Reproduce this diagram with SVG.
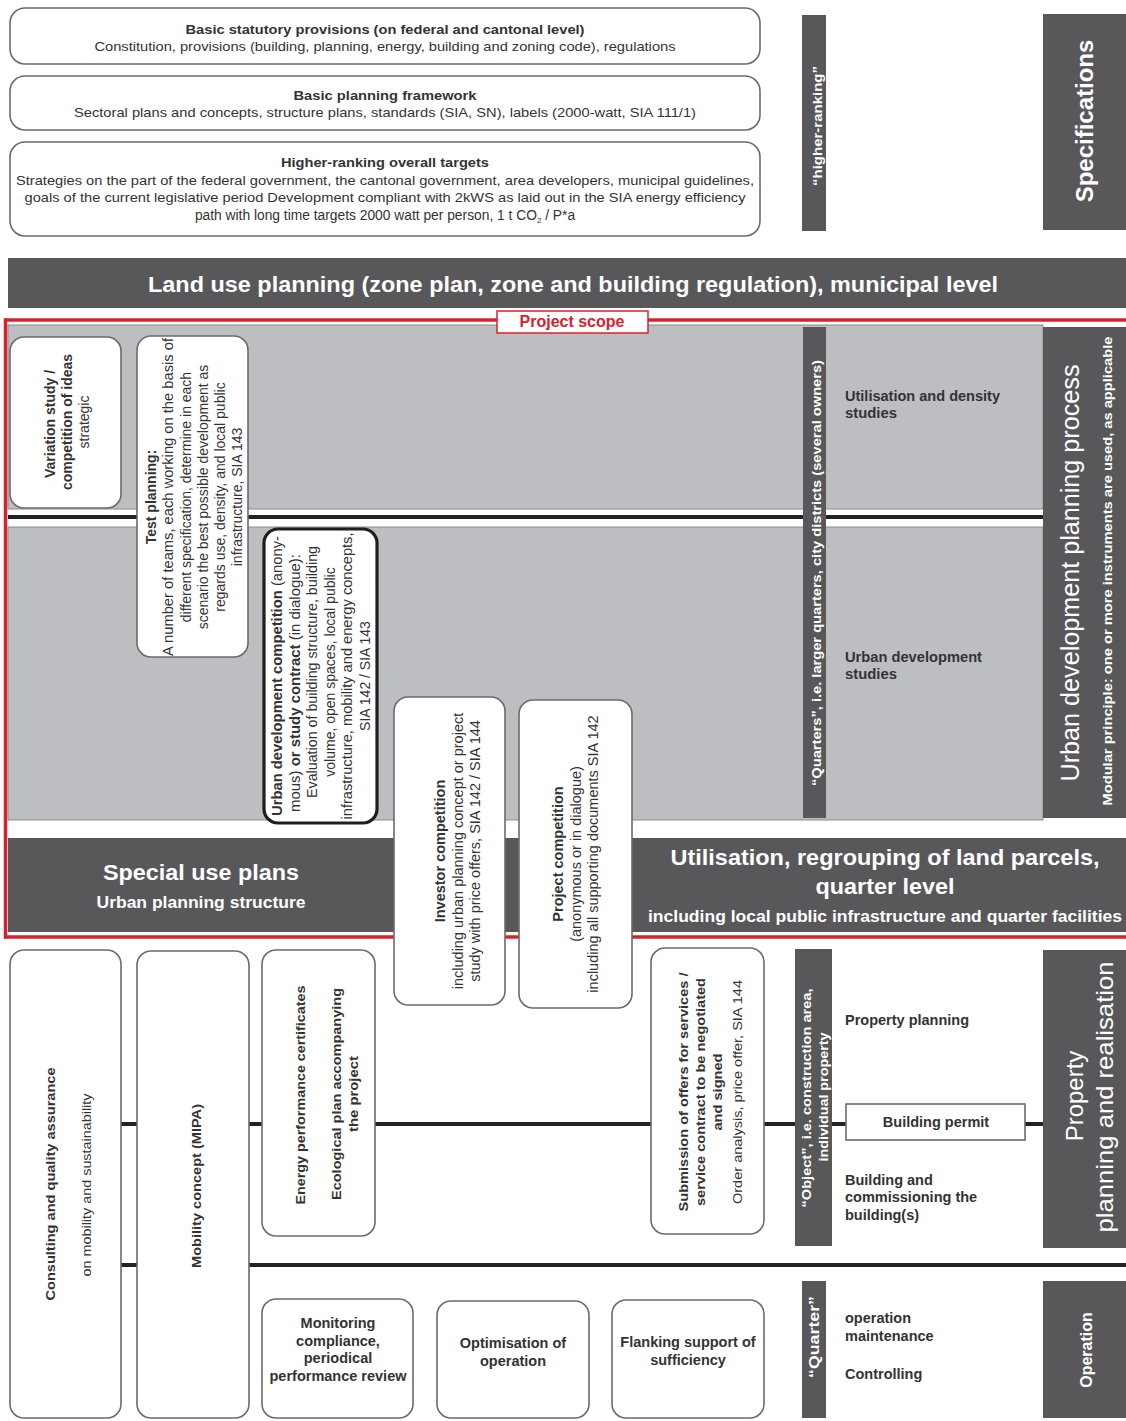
<svg xmlns="http://www.w3.org/2000/svg" width="1126" height="1421" viewBox="0 0 1126 1421">
  <defs>
    <style>
      text { font-family: "Liberation Sans", Arial, sans-serif; fill: #333; }
      .b { font-weight: bold; }
      .w { fill: #fff; }
      .m { text-anchor: middle; }
      .box { fill: #fff; stroke: #6b6b6b; stroke-width: 1.6; }
      .dark { fill: #58585a; }
      .gray { fill: #bdbec1; stroke: #8c8c8c; stroke-width: 1; }
      .red { stroke: #d7222d; stroke-width: 3.5; fill: none; }
      .link { stroke: #222; stroke-width: 4; fill: none; }
      .s13 { font-size: 13px; }
      .s14 { font-size: 14px; }
      .s145 { font-size: 14.5px; }
      .s12 { font-size: 12px; }
    </style>
  </defs>

  <rect width="1126" height="1421" fill="#fff"/>

  <!-- higher-ranking specifications -->
  <g id="statutory">
    <rect class="box" x="10" y="8" width="750" height="56" rx="15"/>
    <text class="b m s13" x="385" y="34" textLength="399" lengthAdjust="spacingAndGlyphs">Basic statutory provisions (on federal and cantonal level)</text>
    <text class="m s13" x="385" y="51" textLength="581" lengthAdjust="spacingAndGlyphs">Constitution, provisions (building, planning, energy, building and zoning code), regulations</text>
  </g>
  <g id="framework">
    <rect class="box" x="10" y="76" width="750" height="54" rx="15"/>
    <text class="b m s13" x="385" y="100" textLength="183" lengthAdjust="spacingAndGlyphs">Basic planning framework</text>
    <text class="m s13" x="385" y="117" textLength="622" lengthAdjust="spacingAndGlyphs">Sectoral plans and concepts, structure plans, standards (SIA, SN), labels (2000-watt, SIA 111/1)</text>
  </g>
  <g id="targets">
    <rect class="box" x="10" y="142" width="750" height="94" rx="15"/>
    <text class="b m s13" x="385" y="167" textLength="208" lengthAdjust="spacingAndGlyphs">Higher-ranking overall targets</text>
    <text class="m s13" x="385" y="185" textLength="738" lengthAdjust="spacingAndGlyphs">Strategies on the part of the federal government, the cantonal government, area developers, municipal guidelines,</text>
    <text class="m s13" x="385" y="202" textLength="721" lengthAdjust="spacingAndGlyphs">goals of the current legislative period Development compliant with 2kWS as laid out in the SIA energy efficiency</text>
    <text class="m" font-size="13.8" x="385" y="220">path with long time targets 2000 watt per person, 1 t CO<tspan font-size="8" dy="3">2</tspan><tspan dy="-3"> / P*a</tspan></text>
  </g>
  <g id="higher-ranking">
    <rect class="dark" x="802" y="15" width="24" height="216"/>
    <text class="b w m s13" transform="translate(817 126) rotate(-90)" dy=".35em" textLength="120" lengthAdjust="spacingAndGlyphs">“higher-ranking”</text>
  </g>
  <g id="specifications">
    <rect class="dark" x="1043" y="14" width="83" height="216"/>
    <text class="b w m" font-size="24" transform="translate(1085 121) rotate(-90)" dy=".35em">Specifications</text>
  </g>

  <!-- municipal land use planning -->
  <g id="land-use">
    <rect class="dark" x="8" y="258" width="1118" height="50"/>
    <text class="b w m" font-size="22" x="573" y="292" textLength="850" lengthAdjust="spacingAndGlyphs">Land use planning (zone plan, zone and building regulation), municipal level</text>
  </g>

  <!-- project scope: urban development planning process -->
  <g id="scope-areas">
    <rect class="gray" x="8" y="325" width="1035" height="184"/>
    <rect class="gray" x="8" y="527" width="1035" height="293"/>
  </g>

  <g id="connectors">
    <line class="link" x1="8" y1="517" x2="1043" y2="517"/>
    <line class="link" x1="121" y1="1124" x2="1043" y2="1124"/>
    <line class="link" x1="121" y1="1265" x2="1126" y2="1265"/>
  </g>

  <g id="quarters">
    <rect class="dark" x="803" y="327" width="23" height="491"/>
    <text class="b w m s12" transform="translate(817 573) rotate(-90)" dy=".35em" textLength="426" lengthAdjust="spacingAndGlyphs">“Quarters”, i.e. larger quarters, city districts (several owners)</text>
  </g>
  <g id="utilisation-studies">
    <text class="b s145" x="845" y="401" textLength="155" lengthAdjust="spacingAndGlyphs">Utilisation and density</text>
    <text class="b s145" x="845" y="418" textLength="52" lengthAdjust="spacingAndGlyphs">studies</text>
  </g>
  <g id="urban-studies">
    <text class="b s145" x="845" y="662" textLength="137" lengthAdjust="spacingAndGlyphs">Urban development</text>
    <text class="b s145" x="845" y="679" textLength="52" lengthAdjust="spacingAndGlyphs">studies</text>
  </g>
  <g id="planning-process">
    <rect class="dark" x="1043" y="327" width="83" height="491"/>
    <text class="w m" font-size="25" transform="translate(1070 573) rotate(-90)" dy=".35em" textLength="417" lengthAdjust="spacingAndGlyphs">Urban development planning process</text>
    <text class="b w m s13" transform="translate(1107 571) rotate(-90)" dy=".35em" textLength="469" lengthAdjust="spacingAndGlyphs">Modular principle: one or more instruments are used, as applicable</text>
  </g>

  <g id="variation-study">
    <rect class="box" x="10" y="337" width="111" height="171" rx="14"/>
    <text class="b m s14" transform="translate(50 424) rotate(-90)" dy=".35em">Variation study /</text>
    <text class="b m s14" transform="translate(67 422) rotate(-90)" dy=".35em">competition of ideas</text>
    <text class="m s14" transform="translate(84 422) rotate(-90)" dy=".35em">strategic</text>
  </g>
  <g id="test-planning">
    <rect class="box" x="137" y="336" width="111" height="321" rx="14"/>
    <text class="b m s14" transform="translate(151 497) rotate(-90)" dy=".35em">Test planning:</text>
    <text class="m s14" transform="translate(168 497) rotate(-90)" dy=".35em" textLength="318" lengthAdjust="spacingAndGlyphs">A number of teams, each working on the basis of</text>
    <text class="m s14" transform="translate(186 497) rotate(-90)" dy=".35em">different specification, determine in each</text>
    <text class="m s14" transform="translate(203 497) rotate(-90)" dy=".35em">scenario the best possible development as</text>
    <text class="m s14" transform="translate(220 497) rotate(-90)" dy=".35em">regards use, density, and local public</text>
    <text class="m s14" transform="translate(237 497) rotate(-90)" dy=".35em">infrastructure, SIA 143</text>
  </g>
  <g id="urban-competition">
    <rect x="264" y="529" width="113" height="294" rx="14" fill="#fff" stroke="#1e1e1e" stroke-width="3.2"/>
    <text class="m s14" transform="translate(277 676) rotate(-90)" dy=".35em" textLength="280" lengthAdjust="spacingAndGlyphs"><tspan class="b">Urban development competition</tspan> (anony-</text>
    <text class="m s14" transform="translate(295 683) rotate(-90)" dy=".35em" textLength="258" lengthAdjust="spacingAndGlyphs">mous) <tspan class="b">or study contract</tspan> (in dialogue):</text>
    <text class="m s14" transform="translate(312 672) rotate(-90)" dy=".35em" textLength="252" lengthAdjust="spacingAndGlyphs">Evaluation of building structure, building</text>
    <text class="m s14" transform="translate(330 672) rotate(-90)" dy=".35em">volume, open spaces, local public</text>
    <text class="m s14" transform="translate(347 676) rotate(-90)" dy=".35em" textLength="287" lengthAdjust="spacingAndGlyphs">infrastructure, mobility and energy concepts,</text>
    <text class="m s14" transform="translate(365 676) rotate(-90)" dy=".35em">SIA 142 / SIA 143</text>
  </g>

  <!-- special use plans and land parcel regrouping -->
  <g id="special-use">
    <rect class="dark" x="8" y="838" width="1118" height="94"/>
    <text class="b w m" font-size="22" x="201" y="880" textLength="196" lengthAdjust="spacingAndGlyphs">Special use plans</text>
    <text class="b w m" font-size="16" x="201" y="908" textLength="209" lengthAdjust="spacingAndGlyphs">Urban planning structure</text>
    <text class="b w m" font-size="22" x="885" y="865" textLength="429" lengthAdjust="spacingAndGlyphs">Utilisation, regrouping of land parcels,</text>
    <text class="b w m" font-size="22" x="885" y="894" textLength="139" lengthAdjust="spacingAndGlyphs">quarter level</text>
    <text class="b w m" font-size="16" x="885" y="922" textLength="474" lengthAdjust="spacingAndGlyphs">including local public infrastructure and quarter facilities</text>
  </g>

  <g id="scope-frame">
    <line class="red" x1="4" y1="320" x2="1126" y2="320"/>
    <line class="red" x1="5.5" y1="318.5" x2="5.5" y2="938.5"/>
    <line class="red" x1="4" y1="937" x2="1126" y2="937"/>
    <rect x="497" y="311" width="151" height="22" fill="#fff" stroke="#d7222d" stroke-width="1.5"/>
    <text class="b m" font-size="16" x="572" y="327" style="fill:#d7222d">Project scope</text>
  </g>

  <g id="investor-competition">
    <rect class="box" x="394" y="697" width="111" height="308" rx="14"/>
    <text class="b m s145" transform="translate(440 851) rotate(-90)" dy=".35em">Investor competition</text>
    <text class="m s145" transform="translate(458 851) rotate(-90)" dy=".35em">including urban planning concept or project</text>
    <text class="m s145" transform="translate(475 851) rotate(-90)" dy=".35em">study with price offers, SIA 142 / SIA 144</text>
  </g>
  <g id="project-competition">
    <rect class="box" x="519" y="700" width="113" height="308" rx="14"/>
    <text class="b m s145" transform="translate(558 854) rotate(-90)" dy=".35em">Project competition</text>
    <text class="m s145" transform="translate(576 854) rotate(-90)" dy=".35em">(anonymous or in dialogue)</text>
    <text class="m s145" transform="translate(593 854) rotate(-90)" dy=".35em">including all supporting documents SIA 142</text>
  </g>

  <!-- property planning and realisation -->
  <g id="consulting">
    <rect class="box" x="10" y="950" width="111" height="468" rx="14"/>
    <text class="b m s13" transform="translate(50 1184) rotate(-90)" dy=".35em" textLength="233" lengthAdjust="spacingAndGlyphs">Consulting and quality assurance</text>
    <text class="m s13" transform="translate(86 1185) rotate(-90)" dy=".35em" textLength="183" lengthAdjust="spacingAndGlyphs">on mobility and sustainability</text>
  </g>
  <g id="mobility-concept">
    <rect class="box" x="137" y="951" width="112" height="467" rx="14"/>
    <text class="b m s13" transform="translate(196 1186) rotate(-90)" dy=".35em" textLength="164" lengthAdjust="spacingAndGlyphs">Mobility concept (MIPA)</text>
  </g>
  <g id="energy-certificates">
    <rect class="box" x="262" y="950" width="113" height="286" rx="14"/>
    <text class="b m s13" transform="translate(300 1095) rotate(-90)" dy=".35em" textLength="219" lengthAdjust="spacingAndGlyphs">Energy performance certificates</text>
    <text class="b m s13" transform="translate(336 1094) rotate(-90)" dy=".35em" textLength="212" lengthAdjust="spacingAndGlyphs">Ecological plan accompanying</text>
    <text class="b m s13" transform="translate(353 1094) rotate(-90)" dy=".35em" textLength="76" lengthAdjust="spacingAndGlyphs">the project</text>
  </g>
  <g id="submission-offers">
    <rect class="box" x="651" y="948" width="113" height="286" rx="14"/>
    <text class="b m s13" transform="translate(683 1092) rotate(-90)" dy=".35em" textLength="239" lengthAdjust="spacingAndGlyphs">Submission of offers for services /</text>
    <text class="b m s13" transform="translate(700 1092) rotate(-90)" dy=".35em" textLength="228" lengthAdjust="spacingAndGlyphs">service contract to be negotiated</text>
    <text class="b m s13" transform="translate(717 1092) rotate(-90)" dy=".35em" textLength="77" lengthAdjust="spacingAndGlyphs">and signed</text>
    <text class="m s13" transform="translate(737 1092) rotate(-90)" dy=".35em" textLength="224" lengthAdjust="spacingAndGlyphs">Order analysis, price offer, SIA 144</text>
  </g>
  <g id="object">
    <rect class="dark" x="795" y="949" width="37" height="297"/>
    <text class="b w m s13" transform="translate(806 1098) rotate(-90)" dy=".35em" textLength="219" lengthAdjust="spacingAndGlyphs">“Object”, i.e. construction area,</text>
    <text class="b w m s13" transform="translate(823 1097) rotate(-90)" dy=".35em" textLength="129" lengthAdjust="spacingAndGlyphs">individual property</text>
  </g>
  <g id="property-steps">
    <text class="b s145" x="845" y="1025">Property planning</text>
    <text class="b s145" x="845" y="1185">Building and</text>
    <text class="b s145" x="845" y="1202">commissioning the</text>
    <text class="b s145" x="845" y="1220">building(s)</text>
  </g>
  <g id="building-permit">
    <rect x="846" y="1104" width="179" height="36" fill="#fff" stroke="#6b6b6b" stroke-width="1.6"/>
    <text class="b m s145" x="936" y="1127">Building permit</text>
  </g>
  <g id="property-realisation">
    <rect class="dark" x="1043" y="950" width="83" height="298"/>
    <text class="w m" font-size="24" transform="translate(1075 1096) rotate(-90)" dy=".35em">Property</text>
    <text class="w m" font-size="24" transform="translate(1105 1097) rotate(-90)" dy=".35em" textLength="271" lengthAdjust="spacingAndGlyphs">planning and realisation</text>
  </g>

  <!-- operation -->
  <g id="monitoring">
    <rect class="box" x="262" y="1299" width="151" height="119" rx="14"/>
    <text class="b m s145" x="338" y="1328">Monitoring</text>
    <text class="b m s145" x="338" y="1346">compliance,</text>
    <text class="b m s145" x="338" y="1363">periodical</text>
    <text class="b m s145" x="338" y="1381">performance review</text>
  </g>
  <g id="optimisation">
    <rect class="box" x="437" y="1301" width="152" height="117" rx="14"/>
    <text class="b m s145" x="513" y="1348">Optimisation of</text>
    <text class="b m s145" x="513" y="1366">operation</text>
  </g>
  <g id="flanking-support">
    <rect class="box" x="612" y="1300" width="152" height="118" rx="14"/>
    <text class="b m s145" x="688" y="1347">Flanking support of</text>
    <text class="b m s145" x="688" y="1365">sufficiency</text>
  </g>
  <g id="quarter">
    <rect class="dark" x="802" y="1281" width="24" height="137"/>
    <text class="b w m s14" transform="translate(814 1337) rotate(-90)" dy=".35em" textLength="82" lengthAdjust="spacingAndGlyphs">“Quarter”</text>
  </g>
  <g id="operation-steps">
    <text class="b s145" x="845" y="1323">operation</text>
    <text class="b s145" x="845" y="1341">maintenance</text>
    <text class="b s145" x="845" y="1379">Controlling</text>
  </g>
  <g id="operation">
    <rect class="dark" x="1043" y="1281" width="83" height="137"/>
    <text class="b w m" font-size="16" transform="translate(1086 1350) rotate(-90)" dy=".35em">Operation</text>
  </g>
</svg>
